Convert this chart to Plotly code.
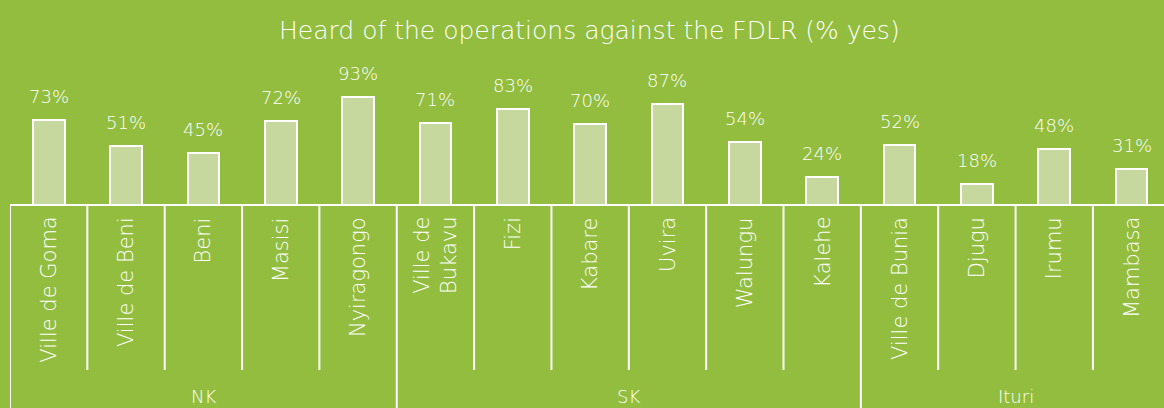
import plotly.graph_objects as go

categories = ["Ville de Goma", "Ville de Beni", "Beni", "Masisi", "Nyiragongo",
              "Ville de<br>Bukavu", "Fizi", "Kabare", "Uvira", "Walungu", "Kalehe",
              "Ville de Bunia", "Djugu", "Irumu", "Mambasa"]
values = [73, 51, 45, 72, 93, 71, 83, 70, 87, 54, 24, 52, 18, 48, 31]
groups = ["NK", "SK", "Ituri"]
group_sizes = [5, 6, 4]
title = "Heard of the operations against the FDLR (% yes)"

BG = "#92bd3e"
BAR = "#c6d89d"
FONT = "'DejaVu Sans', sans-serif"
W8 = 200

xs = list(range(len(categories)))
H = 408

def py(p):
    return 1 - p / H

fig = go.Figure()
fig.add_trace(go.Bar(
    x=xs, y=values, width=0.41,
    marker=dict(color=BAR, line=dict(color="white", width=2)),
    hoverinfo="skip", showlegend=False,
))

annotations = []
for x, v in zip(xs, values):
    annotations.append(dict(x=x, y=v, xref="x", yref="y", text=f"{v}%",
                            showarrow=False, yanchor="bottom", yshift=11,
                            font=dict(color="white", size=18, family=FONT, weight=W8)))
for x, c in zip(xs, categories):
    annotations.append(dict(x=x, y=py(215), xref="x", yref="paper", text=c,
                            showarrow=False, textangle=-90, yanchor="top",
                            xanchor="center",
                            font=dict(color="white", size=21, family=FONT, weight=W8)))
shapes = []
axis_y = py(205)
inner_bottom = py(370)
start = 0
for g, n in zip(groups, group_sizes):
    left = start - 0.5
    right = start + n - 0.5
    annotations.append(dict(x=(left + right) / 2, y=py(396), xref="x", yref="paper",
                            text=g, showarrow=False, yanchor="middle",
                            font=dict(color="white", size=18, family=FONT, weight=W8)))
    shapes.append(dict(type="line", xref="x", yref="paper", x0=left, x1=left,
                       y0=axis_y, y1=0, line=dict(color="white", width=2)))
    for k in range(1, n):
        xb = left + k
        shapes.append(dict(type="line", xref="x", yref="paper", x0=xb, x1=xb,
                           y0=axis_y, y1=inner_bottom, line=dict(color="white", width=2)))
    start += n
shapes.append(dict(type="line", xref="paper", yref="paper", x0=0, x1=1,
                   y0=axis_y, y1=axis_y, line=dict(color="white", width=2)))

annotations.append(dict(x=0.502, y=py(31), xref="paper", yref="paper", text=title,
                        showarrow=False, yanchor="middle", xanchor="center",
                        font=dict(color="white", size=25, family=FONT, weight=W8)))

fig.update_layout(
    width=1164, height=H,
    paper_bgcolor=BG, plot_bgcolor=BG,
    margin=dict(l=10, r=0, t=0, b=0),
    xaxis=dict(range=[-0.5, -0.5 + 1154 / 77.35], showticklabels=False,
               showgrid=False, zeroline=False, showline=False, fixedrange=True),
    yaxis=dict(domain=[axis_y, 1], range=[0, 205 / 1.162], showticklabels=False,
               showgrid=False, zeroline=False, showline=False, fixedrange=True),
    annotations=annotations, shapes=shapes,
    bargap=0,
)

fig.write_html("out.html", config={"displayModeBar": False},
               post_script="document.body.style.margin='0px';document.body.style.background='" + BG + "';")
